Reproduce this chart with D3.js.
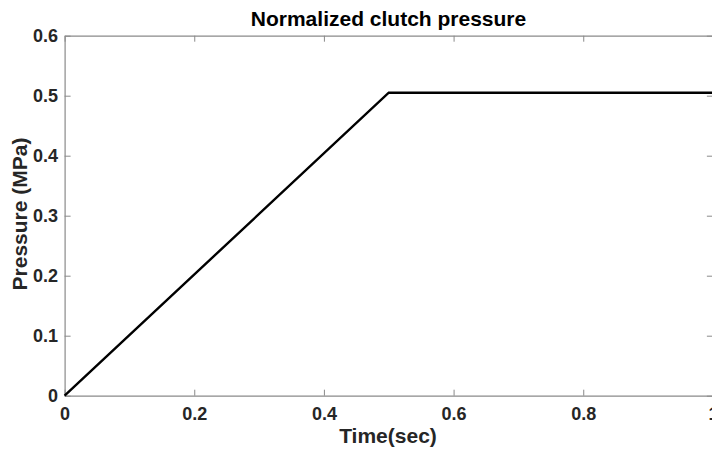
<!DOCTYPE html>
<html><head><meta charset="utf-8">
<script src="https://cdn.jsdelivr.net/npm/d3@7"></script>
<style>body{margin:0;background:#fff;}svg{display:block;}</style>
</head><body>
<svg id="c" width="712" height="449"></svg>
<script>
const timeVals = [0, 0.5, 1];
const pressureVals = [0, 0.505, 0.505];
const xTicks = [0, 0.2, 0.4, 0.6, 0.8, 1];
const yTicks = [0, 0.1, 0.2, 0.3, 0.4, 0.5, 0.6];
const titleText = "Normalized clutch pressure";
const xLabel = "Time(sec)";
const yLabel = "Pressure (MPa)";

const svg = d3.select("#c");
const L = 64.6, R = 712.9, T = 35.7, B = 395.7;
const x = d3.scaleLinear().domain([0, 1]).range([L, R]);
const y = d3.scaleLinear().domain([0, 0.6]).range([B, T]);
const font = "Liberation Sans, Arial, sans-serif";
const axisCol = "#8a8a8a", textCol = "#262626";

function style(g) {
  g.select(".domain").attr("stroke", axisCol).attr("stroke-width", 1.2);
  g.selectAll(".tick line").attr("stroke", axisCol);
  g.selectAll(".tick text").attr("fill", textCol).attr("font-family", font)
    .attr("font-weight", "bold").attr("font-size", 18);
}
const fmt = d => d === 0 ? "0" : d === 1 ? "1" : d3.format(".1f")(d);

svg.append("g").attr("transform", `translate(0,${B})`)
  .call(d3.axisBottom(x).tickValues(xTicks).tickFormat(fmt).tickSizeInner(-6).tickSizeOuter(0).tickPadding(12))
  .call(style);
svg.append("g").attr("transform", `translate(0,${T})`)
  .call(d3.axisTop(x).tickValues(xTicks).tickFormat("").tickSizeInner(-6).tickSizeOuter(0))
  .call(style);
svg.append("g").attr("transform", `translate(${L},0)`)
  .call(d3.axisLeft(y).tickValues(yTicks).tickFormat(fmt).tickSizeInner(-6).tickSizeOuter(0).tickPadding(6.5))
  .call(style);
svg.append("g").attr("transform", `translate(${R},0)`)
  .call(d3.axisRight(y).tickValues(yTicks).tickFormat("").tickSizeInner(-6).tickSizeOuter(0))
  .call(style);

const data = timeVals.map((t, i) => [t, pressureVals[i]]);
svg.append("path").datum(data)
  .attr("fill", "none").attr("stroke", "#000").attr("stroke-width", 2.4)
  .attr("d", d3.line().x(d => x(d[0])).y(d => y(d[1])));

svg.append("text").attr("x", 388.5).attr("y", 26).attr("text-anchor", "middle")
  .attr("font-family", font).attr("font-weight", "bold").attr("font-size", 21).attr("fill", "#000")
  .text(titleText);
svg.append("text").attr("x", 388).attr("y", 443).attr("text-anchor", "middle")
  .attr("font-family", font).attr("font-weight", "bold").attr("font-size", 21).attr("fill", textCol)
  .text(xLabel);
svg.append("text").attr("transform", `translate(27,214) rotate(-90)`).attr("text-anchor", "middle")
  .attr("font-family", font).attr("font-weight", "bold").attr("font-size", 21).attr("fill", textCol)
  .text(yLabel);
</script>
</body></html>
